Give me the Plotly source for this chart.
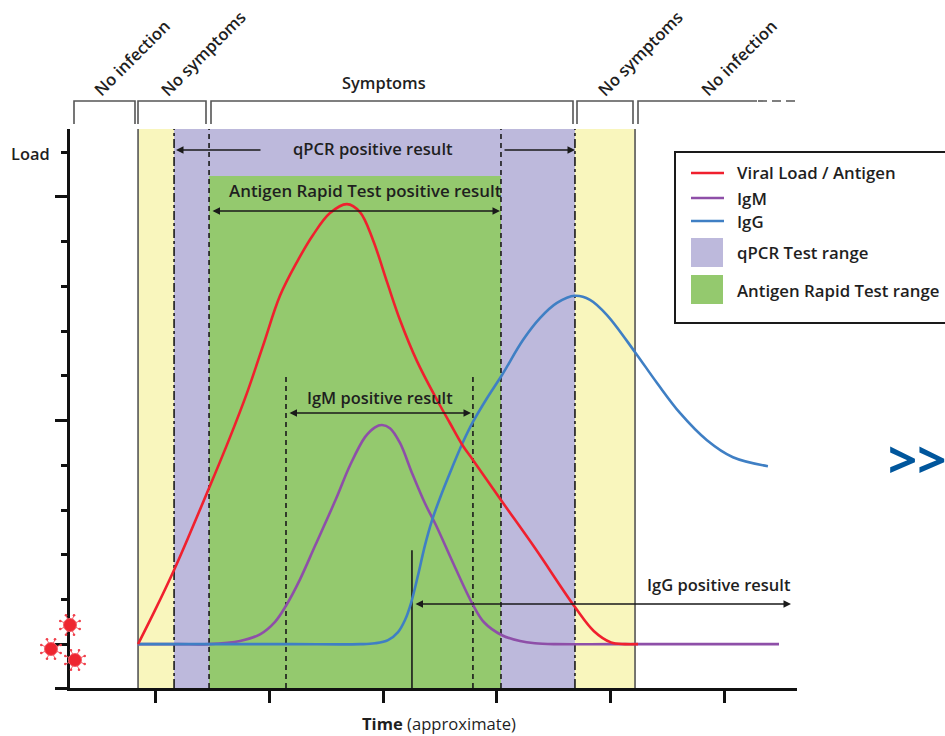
import math
import plotly.graph_objects as go

# ---- data (time units: 10 per x tick; load units: 1 per y tick) ----
viral_t = [-1.49,0,1.67,3.07,4.74,6.58,8.07,9.47,10.96,12.46,13.86,15.35,16.84,17.98,19.12,20.35,21.49,22.98,24.74,25.88,27.02,27.89,30.44,33.33,36.84,38.51,40,41.23,42.37]
viral_v = [0,.76,1.66,2.48,3.49,4.63,5.62,6.67,7.79,8.55,9.15,9.64,9.84,9.66,9.04,8.10,7.25,6.33,5.46,4.94,4.43,4.12,3.19,2.15,.83,.29,.04,0,0]
igm_t = [-1.49,2,4.74,7.46,9.21,10.53,11.49,12.72,14.04,15.88,17.11,18.42,19.30,19.91,20.61,21.49,22.54,23.68,24.65,26.23,27.81,28.86,30.44,32.02,33.33,35.09,40,45,50,54.74]
igm_v = [0,0,0,.07,.22,.50,.86,1.45,2.20,3.25,4.00,4.63,4.85,4.90,4.83,4.50,3.83,3.15,2.66,1.77,.92,.49,.20,.07,.02,0,0,0,0,0]
igg_t = [-1.49,5,12,18.0,19.30,20.44,21.32,21.93,22.46,23.07,23.68,24.30,25,26.05,27.02,27.89,29.12,30.44,32.28,33.77,35.26,36.84,38.16,39.65,42.11,44.04,46.05,48.42,50.7,53.77]
igg_v = [0,0,0,0,.02,.09,.27,.54,.92,1.54,2.21,2.77,3.27,3.94,4.52,4.97,5.50,6.02,6.80,7.29,7.63,7.79,7.70,7.36,6.53,5.84,5.17,4.56,4.18,3.98]

x_ticks = [0,10,20,30,40,50]
y_major = [-0.98,0,5,10]
y_minor = [1,2,3,4,6,7,8,9,11]

infection_start, qpcr_start, antigen_start, antigen_end, qpcr_end, infection_end = -1.49,1.67,4.74,30.35,36.84,42.11
igm_start, igm_end, igg_start = 11.49,27.89,22.54
band_top, antigen_top, axis_bottom = 11.52,10.47,-0.98
line_top_igm, line_top_igg = 6.0,2.1

YELLOW="#f9f6bd"; LAV="#bdb9dc"; GREEN="#94c96e"; RED="#f0202e"; PURPLE="#8e4fa8"; BLUE="#3f7fc4"; INK="#1a1a1a"; GREY="#555555"
FONT="Open Sans"

W,H=945,736
L,R,T,B=70,148,129,48
px=lambda v:(v-L)/(W-L-R)
py=lambda v:(H-B-v)/(H-T-B)

fig=go.Figure()
for t,v,c,w,n in [(igm_t,igm_v,PURPLE,2.6,"IgM"),(igg_t,igg_v,BLUE,2.6,"IgG"),(viral_t,viral_v,RED,2.6,"Viral Load / Antigen")]:
    fig.add_trace(go.Scatter(x=t,y=v,mode="lines",name=n,line=dict(color=c,width=w,shape="spline",smoothing=1.0),cliponaxis=False,showlegend=False,hoverinfo="skip"))

shapes=[]
def band(x0,x1,y1,c):
    shapes.append(dict(type="rect",xref="x",yref="y",x0=x0,x1=x1,y0=axis_bottom,y1=y1,fillcolor=c,line_width=0,layer="below"))
def vline(x,y1,dash,c=INK,w=1.6):
    shapes.append(dict(type="line",xref="x",yref="y",x0=x,x1=x,y0=axis_bottom,y1=y1,line=dict(color=c,width=w,dash=dash),layer="below"))
band(infection_start,qpcr_start,band_top,YELLOW)
band(qpcr_start,qpcr_end,band_top,LAV)
band(antigen_start,antigen_end,antigen_top,GREEN)
band(qpcr_end,infection_end,band_top,YELLOW)
vline(infection_start,band_top,"solid",GREY,1.6)
vline(infection_end,band_top,"solid",GREY,1.6)
vline(qpcr_start,band_top,"dashdot")
vline(qpcr_end,band_top,"dashdot")
vline(antigen_start,band_top,"5px,4px")
vline(antigen_end,band_top,"5px,4px")
vline(igm_start,line_top_igm,"5px,4px")
vline(igm_end,line_top_igm,"5px,4px")
vline(igg_start,line_top_igg,"solid",INK,1.6)

# brackets over the phases
def bracket(x0,x1,open_right=False):
    path=f"M{px(x0)},{py(124)} L{px(x0)},{py(101)} L{px(x1)},{py(101)}"
    if not open_right: path+=f" L{px(x1)},{py(124)}"
    shapes.append(dict(type="path",xref="paper",yref="paper",path=path,line=dict(color=GREY,width=1.6)))
bracket(74,135); bracket(138,206); bracket(211,573); bracket(577,633); bracket(638,757,True)
shapes.append(dict(type="line",xref="paper",yref="paper",x0=px(758),x1=px(797),y0=py(101),y1=py(101),line=dict(color=GREY,width=1.6,dash="9px,5px")))

# legend box
shapes.append(dict(type="rect",xref="paper",yref="paper",x0=px(675),x1=px(960),y0=py(152),y1=py(323),line=dict(color=INK,width=2),fillcolor="white"))
for y,c in [(173,RED),(198,PURPLE),(221,BLUE)]:
    shapes.append(dict(type="line",xref="paper",yref="paper",x0=px(691),x1=px(724),y0=py(y),y1=py(y),line=dict(color=c,width=2.6)))
for y0,y1,c in [(238,267,LAV),(275,304,GREEN)]:
    shapes.append(dict(type="rect",xref="paper",yref="paper",x0=px(691),x1=px(723),y0=py(y0),y1=py(y1),fillcolor=c,line_width=0))

# virus icons
for cx,cy,r in [(70,625,6.5),(51,649,6.5),(75,660,6.5)]:
    for k in range(8):
        a=k*math.pi/4+math.pi/8
        x1,y1=cx+10.5*math.cos(a),cy+10.5*math.sin(a)
        shapes.append(dict(type="line",xref="paper",yref="paper",x0=px(cx),x1=px(x1),y0=py(cy),y1=py(y1),line=dict(color="#f4606a",width=1)))
        shapes.append(dict(type="circle",xref="paper",yref="paper",x0=px(x1-1.3),x1=px(x1+1.3),y0=py(y1-1.3),y1=py(y1+1.3),fillcolor="#f0404c",line_width=0))
    shapes.append(dict(type="circle",xref="paper",yref="paper",x0=px(cx-r),x1=px(cx+r),y0=py(cy-r),y1=py(cy+r),fillcolor="#ee2530",line=dict(color="#f4606a",width=1)))

ann=[]
def text(x,y,s,size=15,rot=0,anchor="center",color="#1f1f1f",weight=600):
    ann.append(dict(xref="paper",yref="paper",x=px(x),y=py(y),text=s,showarrow=False,xanchor=anchor,yanchor="middle",textangle=rot,font=dict(family=FONT,size=size,color=color,weight=weight)))
def arrow(x0,x1,y,side="end"):
    ann.append(dict(xref="paper",yref="paper",x=px(x1),y=py(y),ax=x0-x1,ay=0,axref="pixel",ayref="pixel",text="",showarrow=True,arrowhead=2,arrowside=side,arrowsize=1,arrowwidth=1.5,arrowcolor=INK))

text(30,154,"Load",16.4)
text(384,82,"Symptoms",16.4)
text(373,148,"qPCR positive result",16.6)
text(365,190,"Antigen Rapid Test positive result",16.9)
text(380,397,"IgM positive result",16.4)
text(719,584,"IgG positive result",16.5)
text(439,723,"<b>Time</b> (approximate)",16.6,0,"center","#1f1f1f",400)
text(132,58,"No infection",16.6,-45)
text(203,54,"No symptoms",16.6,-45)
text(640,54,"No symptoms",16.6,-45)
text(739,58,"No infection",16.6,-45)
for y,s in [(173,"Viral Load / Antigen"),(198,"IgM"),(221,"IgG"),(252,"qPCR Test range"),(290,"Antigen Rapid Test range")]:
    text(735,y,s,16.8,0,"left")
text(917,458,"<b>&gt;&gt;</b>",51,0,"center","#00569c")

arrow(262,176,150); arrow(503,575,150)
arrow(211,500,211,"end+start")
arrow(288,471,413,"end+start")
arrow(414,791,604,"end+start")

fig.update_layout(width=W,height=H,autosize=False,margin=dict(l=L,r=R,t=T,b=B),
    paper_bgcolor="white",plot_bgcolor="rgba(0,0,0,0)",shapes=shapes,annotations=ann,showlegend=False,
    xaxis=dict(range=[-7.46,56.32],tickvals=x_ticks,ticks="outside",ticklen=12,tickwidth=2.5,tickcolor="#111111",showticklabels=False,showgrid=False,zeroline=False,showline=True,linecolor="#111111",linewidth=2.5),
    yaxis=dict(range=[axis_bottom,band_top],tickvals=y_major,ticks="outside",ticklen=12,tickwidth=2.5,tickcolor="#111111",showticklabels=False,showgrid=False,zeroline=False,showline=True,linecolor="#111111",linewidth=2.5,
        minor=dict(tickvals=y_minor,ticks="outside",ticklen=6,tickwidth=2.5,tickcolor="#111111",showgrid=False)))
fig.write_html("out.html",config=dict(displayModeBar=False),post_script="document.body.style.margin='0';document.documentElement.style.overflow='hidden';")
